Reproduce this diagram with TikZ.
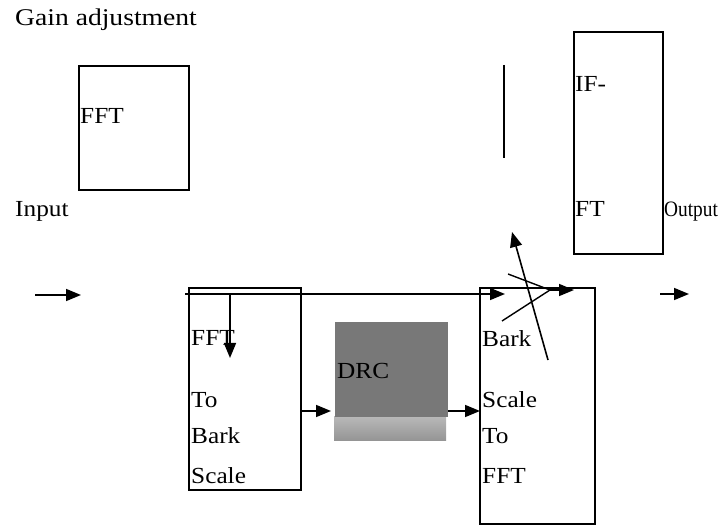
\documentclass[tikz,border=0pt]{standalone}
\usepackage{fontspec}
\usepackage{graphicx}
\setmainfont{Liberation Serif}
\usetikzlibrary{arrows.meta}
\tikzset{
  box/.style={draw, line width=1.5pt, rectangle, inner sep=0pt, outer sep=0pt, anchor=north west},
  lbl/.style={anchor=base west, inner sep=0pt, font=\fontsize{23}{26}\selectfont},
  arr/.style={line width=1.6pt, -{Triangle[length=15pt,width=12pt]}},
  ln/.style={line width=1.4pt}
}
\newcommand{\wdtxt}[1]{\scalebox{1.1}[1]{#1}}
\begin{document}
\begin{tikzpicture}[x=1pt,y=-1pt]
\useasboundingbox (0,0) rectangle (723,526);
% boxes
\node[box, minimum width=110pt, minimum height=124pt] (fft) at (79,66) {};
\node[box, minimum width=89pt, minimum height=222pt] (ifft) at (574,32) {};
\node[box, minimum width=112pt, minimum height=202pt] (fftbark) at (189,288) {};
\node[box, draw=none, top color=black!28, bottom color=black!42, minimum width=112pt, minimum height=24pt] (drcshade) at (334,417) {};
\node[box, draw=none, fill=black!53, minimum width=113pt, minimum height=95pt] (drc) at (335,322) {};
\node[box, minimum width=115pt, minimum height=236pt] (barkfft) at (480,288) {};
% texts
\node[lbl, font=\fontsize{24}{28}\selectfont] (gain) at (15,26) {\scalebox{1.15}[1]{Gain adjustment}};
\node[lbl] (tfft) at (80,124) {\wdtxt{FFT}};
\node[lbl] (input) at (15,217) {\wdtxt{Input}};
\node[lbl] (tif) at (575,92) {\wdtxt{IF-}};
\node[lbl] (tft) at (575,217) {\wdtxt{FT}};
\node[lbl, font=\fontsize{22}{26}\selectfont] (output) at (664,217) {\scalebox{0.88}[1]{Output}};
\node[lbl] (a1) at (191,346) {\wdtxt{FFT}};
\node[lbl] (a2) at (191,408) {\wdtxt{To}};
\node[lbl] (a3) at (191,443) {\wdtxt{Bark}};
\node[lbl] (a4) at (191,483) {\wdtxt{Scale}};
\node[lbl] (tdrc) at (337,379) {\wdtxt{DRC}};
\node[lbl] (b1) at (482,347) {\wdtxt{Bark}};
\node[lbl] (b2) at (482,408) {\wdtxt{Scale}};
\node[lbl] (b3) at (482,443) {\wdtxt{To}};
\node[lbl] (b4) at (482,483) {\wdtxt{FFT}};
% connector end points
\coordinate (in0) at (35,295);
\coordinate (in1) at (81,295);
\coordinate (m0) at (185,294);
\coordinate (m1) at (505,294);
\coordinate (d0) at (230,294);
\coordinate (d1) at (230,358);
\coordinate (e0) at (301,411);
\coordinate (e1) at (331,411);
\coordinate (f0) at (448,411);
\coordinate (f1) at (480,411);
\coordinate (o0) at (660,294);
\coordinate (o1) at (689,294);
\coordinate (s0) at (508,274);
\coordinate (s1) at (502,321);
\coordinate (sj) at (550,290);
\coordinate (s2) at (574,290);
\coordinate (g0) at (548,360);
\coordinate (g1) at (512,232);
\coordinate (v0) at (504,65);
\coordinate (v1) at (504,158);
% connectors
\draw[arr] (in0) -- (in1);
\draw[arr] (m0) -- (m1);
\draw[arr] (d0) -- (d1);
\draw[arr] (e0) -- (e1);
\draw[arr] (f0) -- (f1);
\draw[arr] (o0) -- (o1);
\draw[ln] (s0) -- (sj);
\draw[ln] (s1) -- (sj);
\draw[arr] (sj) -- (s2);
\draw[arr] (g0) -- (g1);
\draw[ln] (v0) -- (v1);
\end{tikzpicture}
\end{document}
